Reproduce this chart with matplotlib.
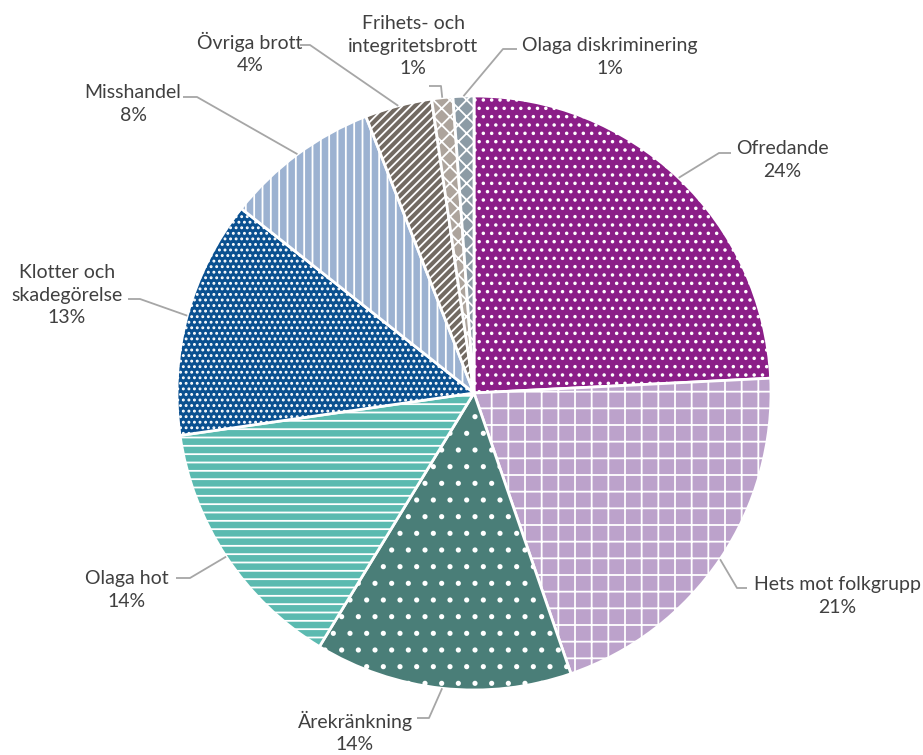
import numpy as np
import matplotlib
matplotlib.use('Agg')
import matplotlib.pyplot as plt

categories = ['Ofredande', 'Hets mot folkgrupp', 'Ärekränkning', 'Olaga hot',
              'Klotter och\nskadegörelse', 'Misshandel', 'Övriga brott',
              'Frihets- och\nintegritetsbrott', 'Olaga diskriminering']
values = [24.2, 20.5, 14.0, 14.0, 12.95, 8.4, 3.65, 1.15, 1.13]
pct_labels = ['24%', '21%', '14%', '14%', '13%', '8%', '4%', '1%', '1%']

colors = ['#8B1E88', '#BCA2CB', '#4A7E78', '#5BBAB0', '#0A5090',
          '#9CB2D1', '#726A62', '#ADA49C', '#8C9BA5']
hatches = ['..', '+', '.', '--', '...', '||', '////', 'xx', 'xx']

# label layout in pixels: text centre, elbow point, line end near text
CX, CY, R = 474, 393, 297
label_pos = [(782, 160), (837, 596), (355, 732), (127, 590),
             (67, 295), (133, 104), (250, 53), (413, 46), (610, 57)]
elbows = [((719, 153), (731, 153)), ((737, 588), (747, 588)),
          ((429, 718), (417, 718)), ((190, 578), (176, 578)),
          ((140, 299), (128, 299)), ((197, 97), (183, 97)),
          ((310, 45), (300, 45)), ((441, 86), (429, 86)),
          ((503, 49), (517, 49))]

def px(p):
    return ((p[0] - CX) / R, (CY - p[1]) / R)

plt.rcParams['font.family'] = ['Lato', 'DejaVu Sans']
plt.rcParams['hatch.linewidth'] = 1.3

fig = plt.figure(figsize=(9.23, 7.55), dpi=100)
ax = fig.add_axes([0, 0, 1, 1])
wedges, _ = ax.pie(values, colors=colors, startangle=90, counterclock=False,
                   radius=1, wedgeprops=dict(edgecolor='white', linewidth=2))
for w, h in zip(wedges, hatches):
    w.set_hatch(h)

for w, lab, pct, pos, (e1, e2) in zip(wedges, categories, pct_labels, label_pos, elbows):
    ang = np.deg2rad((w.theta1 + w.theta2) / 2)
    x0, y0 = np.cos(ang), np.sin(ang)
    xs = [x0, px(e1)[0], px(e2)[0]]
    ys = [y0, px(e1)[1], px(e2)[1]]
    ax.plot(xs, ys, color='#A6A6A6', lw=1.3, solid_capstyle='butt')
    tx, ty = px(pos)
    ax.text(tx, ty, lab + '\n' + pct, ha='center', va='center', fontsize=14,
            color='#404040', linespacing=1.4)

ax.set_xlim(-CX / R, (923 - CX) / R)
ax.set_ylim((CY - 755) / R, CY / R)
ax.set_aspect('equal')
ax.axis('off')

fig.savefig('out.png', dpi=100)
